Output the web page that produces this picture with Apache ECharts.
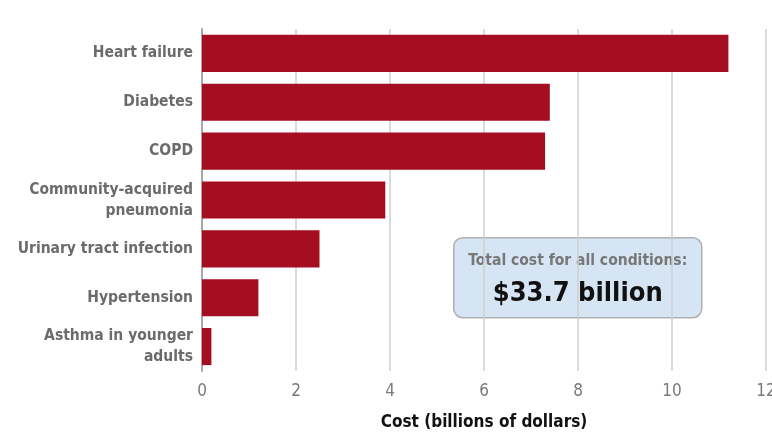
<!DOCTYPE html>
<html><head><meta charset="utf-8">
<script src="https://cdn.jsdelivr.net/npm/echarts@6/dist/echarts.min.js"></script>
<style>html,body{margin:0;padding:0;background:#fff}#c{width:772px;height:433px}</style>
</head><body><div id="c"></div>
<script>
const categories = ["Heart failure","Diabetes","COPD","Community-acquired\npneumonia","Urinary tract infection","Hypertension","Asthma in younger\nadults"];
const costs = [11.2, 7.4, 7.3, 3.9, 2.5, 1.2, 0.2];
const xTicks = [0, 2, 4, 6, 8, 10, 12];
const calloutTitle = "Total cost for all conditions:";
const calloutValue = "$33.7 billion";

const font = '"DejaVu Sans Condensed", "Liberation Sans Narrow", sans-serif';
const chart = echarts.init(document.getElementById('c'), null, {renderer:'canvas'});
chart.setOption({
  animation:false,
  grid:{left:202, right:6, top:29, bottom:62, containLabel:false, outerBoundsMode:'none'},
  xAxis:{type:'value', min:xTicks[0], max:xTicks[xTicks.length-1], interval:2,
    axisLine:{show:false}, axisTick:{show:false},
    axisLabel:{color:'#7a7a7a', fontFamily:font, fontSize:17, margin:12},
    splitLine:{show:true, lineStyle:{color:'#cfcfcf', width:1.5}},
    name:'Cost (billions of dollars)', nameLocation:'middle', nameGap:43,
    nameTextStyle:{color:'#111', fontFamily:font, fontSize:17, fontWeight:'bold'}},
  yAxis:{type:'category', data:categories, inverse:true,
    axisLine:{show:true, lineStyle:{color:'#a8a8a8', width:2}}, axisTick:{show:false},
    axisLabel:{color:'#6b6b6b', fontFamily:font, fontSize:15.5, fontWeight:'bold', margin:9, lineHeight:21, align:'right'}},
  series:[{type:'bar', data:costs, barCategoryGap:'24%',
    itemStyle:{color:'#a50d20'}}],
  graphic:[{type:'group', left:453, top:237, children:[
    {type:'rect', shape:{x:0,y:0,width:248,height:80,r:9}, style:{fill:'#d6e5f3', stroke:'#b0b0b0', lineWidth:1.5}},
    {type:'text', x:124, y:23, style:{text:calloutTitle, fill:'#777', font:'bold 15.5px '+font, textAlign:'center', textVerticalAlign:'middle'}},
    {type:'text', x:124, y:56, style:{text:calloutValue, fill:'#111', font:'bold 27px '+font, textAlign:'center', textVerticalAlign:'middle'}}
  ]}]
});
</script></body></html>
